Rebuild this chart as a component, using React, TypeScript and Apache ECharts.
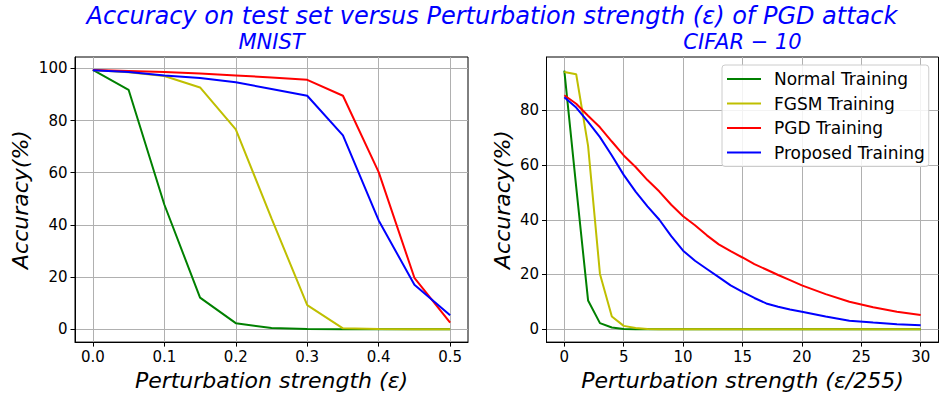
import React, { useEffect, useRef } from "react";
import * as echarts from "echarts";

// ---- MNIST data ----
const mnistEps = [0, 0.05, 0.1, 0.15, 0.2, 0.25, 0.3, 0.35, 0.4, 0.45, 0.5];
const mnistNormal = [99.4, 91.8, 47.8, 12.1, 2.3, 0.4, 0.1, 0, 0, 0, 0];
const mnistFGSM = [99.4, 98.5, 97.1, 92.7, 76.6, 42.5, 9.2, 0.3, 0.1, 0, 0];
const mnistPGD = [99.4, 99.0, 98.6, 98.0, 97.3, 96.5, 95.6, 89.5, 60.2, 19.7, 2.5];
const mnistProposed = [99.3, 98.6, 97.3, 96.3, 94.7, 92.1, 89.5, 74.3, 41.7, 17.0, 5.3];

// ---- CIFAR-10 data ----
const cifarEps = [0, 1, 2, 3, 4, 5, 6, 7, 8, 9, 10, 11, 12, 13, 14, 15, 16, 17, 18, 19, 20, 22, 24, 26, 28, 30];
const cifarNormal = [94.5, 52, 10.5, 2.2, 0.6, 0.1, 0, 0, 0, 0, 0, 0, 0, 0, 0, 0, 0, 0, 0, 0, 0, 0, 0, 0, 0, 0];
const cifarFGSM = [94, 93.2, 67, 20.2, 4.6, 1.2, 0.4, 0.1, 0, 0, 0, 0, 0, 0, 0, 0, 0, 0, 0, 0, 0, 0, 0, 0, 0, 0];
const cifarPGD = [85.5, 82.4, 78, 73.8, 68.6, 63.5, 59.3, 54.5, 50.3, 45.5, 41.3, 38, 34.3, 31, 28.5, 26.2, 23.8, 21.8, 19.8, 17.9, 16, 12.8, 10, 8, 6.4, 5.2];
const cifarProposed = [84.8, 81, 75.8, 70.2, 63.5, 56.4, 50.3, 44.9, 40, 34, 28.7, 25, 22, 19, 16, 13.6, 11.4, 9.4, 8.2, 7.2, 6.4, 4.6, 3.1, 2.4, 1.8, 1.4];

const seriesNames = ["Normal Training", "FGSM Training", "PGD Training", "Proposed Training"];
const seriesColors = ["#008000", "#bfbf00", "#ff0000", "#0000ff"];

const mnistXTicks = [0, 0.1, 0.2, 0.3, 0.4, 0.5];
const mnistYTicks = [0, 20, 40, 60, 80, 100];
const cifarXTicks = [0, 5, 10, 15, 20, 25, 30];
const cifarYTicks = [0, 20, 40, 60, 80];

const FONT = "DejaVu Sans";

function pairs(xs: number[], ys: number[]) {
  return xs.map((x, i) => [x, ys[i]]);
}

function makeXAxis(gridIndex: number, min: number, max: number, ticks: number[], name: string, fmt: (v: number) => string) {
  return {
    type: "value",
    gridIndex,
    min,
    max,
    name,
    nameLocation: "middle",
    nameGap: 26,
    nameTextStyle: { fontFamily: FONT, fontSize: 22, fontStyle: "italic", color: "#000" },
    axisLine: { show: true, onZero: false, lineStyle: { color: "#000", width: 1 } },
    axisTick: { show: true, customValues: ticks, length: 4.5, lineStyle: { color: "#000", width: 1 } },
    axisLabel: { customValues: ticks, formatter: fmt, color: "#000", fontSize: 15, fontFamily: FONT, margin: 7 },
    splitLine: { show: true, lineStyle: { color: "#b0b0b0", width: 1 } },
  };
}

function makeYAxis(gridIndex: number, min: number, max: number, ticks: number[], nameGap: number) {
  return {
    type: "value",
    gridIndex,
    min,
    max,
    name: "Accuracy(%)",
    nameLocation: "middle",
    nameGap,
    nameTextStyle: { fontFamily: FONT, fontSize: 22, fontStyle: "italic", color: "#000" },
    axisLine: { show: true, onZero: false, lineStyle: { color: "#000", width: 1 } },
    axisTick: { show: true, customValues: ticks, length: 4.5, lineStyle: { color: "#000", width: 1 } },
    axisLabel: { customValues: ticks, color: "#000", fontSize: 15, fontFamily: FONT, margin: 7.5 },
    splitLine: { show: true, lineStyle: { color: "#b0b0b0", width: 1 } },
  };
}

export default function App() {
  const ref = useRef<HTMLDivElement>(null);
  useEffect(() => {
    document.body.style.margin = "0";
    if (!ref.current) return;
    const chart = echarts.init(ref.current, undefined, { renderer: "svg" });
    const mnistSets = [mnistNormal, mnistFGSM, mnistPGD, mnistProposed];
    const cifarSets = [cifarNormal, cifarFGSM, cifarPGD, cifarProposed];
    const series: any[] = [];
    mnistSets.forEach((ys, i) => {
      series.push({
        type: "line",
        name: seriesNames[i],
        xAxisIndex: 0,
        yAxisIndex: 0,
        data: pairs(mnistEps, ys),
        symbol: "none",
        lineStyle: { color: seriesColors[i], width: 2 },
        itemStyle: { color: seriesColors[i] },
        z: 2 + i,
      });
    });
    cifarSets.forEach((ys, i) => {
      series.push({
        type: "line",
        name: seriesNames[i],
        xAxisIndex: 1,
        yAxisIndex: 1,
        data: pairs(cifarEps, ys),
        symbol: "none",
        lineStyle: { color: seriesColors[i], width: 2 },
        itemStyle: { color: seriesColors[i] },
        z: 2 + i,
      });
    });
    const option: any = {
      animation: false,
      textStyle: { fontFamily: FONT },
      grid: [
        { left: 75, top: 57, width: 393, height: 288, show: true, borderColor: "#000", borderWidth: 1, backgroundColor: "transparent" },
        { left: 546.5, top: 57, width: 392, height: 288, show: true, borderColor: "#000", borderWidth: 1, backgroundColor: "transparent" },
      ],
      xAxis: [
        makeXAxis(0, -0.025, 0.525, mnistXTicks, "Perturbation strength (ε)", (v: number) => v.toFixed(1)),
        makeXAxis(1, -1.5, 31.5, cifarXTicks, "Perturbation strength (ε/255)", (v: number) => String(v)),
      ],
      yAxis: [
        makeYAxis(0, -4.97, 104.37, mnistYTicks, 44),
        makeYAxis(1, -4.73, 99.5, cifarYTicks, 33.5),
      ],
      legend: {
        data: seriesNames,
        left: 722,
        top: 65,
        orient: "vertical",
        icon: "rect",
        itemWidth: 34,
        itemHeight: 2,
        itemGap: 6.5,
        padding: [5, 4, 5, 5],
        backgroundColor: "rgba(255,255,255,0.85)",
        borderColor: "#cccccc",
        borderWidth: 1,
        borderRadius: 3,
        textStyle: { fontFamily: FONT, fontSize: 17, color: "#000", lineHeight: 18, padding: [0, 0, 0, 8] },
      },
      graphic: [
        {
          type: "text",
          x: 492,
          y: 16,
          style: {
            text: "Accuracy on test set versus Perturbation strength (ε) of PGD attack",
            font: `italic 24px "${FONT}"`,
            fill: "#0000ff",
            textAlign: "center",
            textVerticalAlign: "middle",
          },
        },
        {
          type: "text",
          x: 271.5,
          y: 42,
          style: { text: "MNIST", font: `italic 21px "${FONT}"`, fill: "#0000ff", textAlign: "center", textVerticalAlign: "middle" },
        },
        {
          type: "text",
          x: 742.5,
          y: 42,
          style: { text: "CIFAR − 10", font: `italic 21px "${FONT}"`, fill: "#0000ff", textAlign: "center", textVerticalAlign: "middle" },
        },
      ],
      series,
    };
    chart.setOption(option);
    return () => chart.dispose();
  }, []);
  return <div ref={ref} style={{ width: 940, height: 396 }} />;
}
